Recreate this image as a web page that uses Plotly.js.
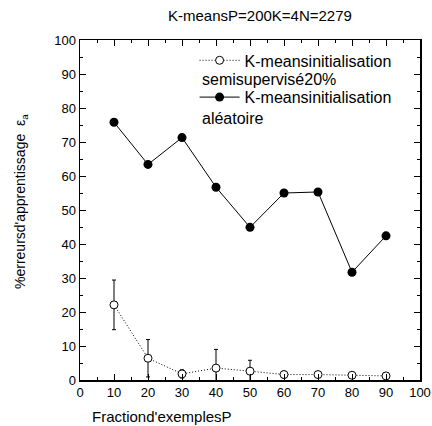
<!DOCTYPE html>
<html><head><meta charset="utf-8">
<script src="https://cdn.plot.ly/plotly-3.0.1.min.js"></script>
<style>body{margin:0;background:#fff}#c{width:432px;height:426px}</style>
</head><body><div id="c"></div>
<script>
var fractions = [10, 20, 30, 40, 50, 60, 70, 80, 90];
var semiSup = [22.1, 6.4, 1.8, 3.5, 2.6, 1.6, 1.6, 1.4, 1.2];
var semiSupErr = [7.3, 5.5, 1.2, 5.5, 3.2, 1.0, 0.8, 0.5, 0.5];
var random = [75.8, 63.4, 71.3, 56.7, 44.9, 55.0, 55.3, 31.7, 42.4];
var tickVals = [0, 10, 20, 30, 40, 50, 60, 70, 80, 90, 100];
var tickText = ['0','10','20','30','40','50','60','70','80','90','100'];
var FONT = 'Liberation Sans, Arial, sans-serif';

var traces = [
  {x: fractions, y: semiSup, type: 'scatter', mode: 'lines+markers',
   name: 'K-meansinitialisation', legendgroup: 'a',
   line: {color: '#000', width: 1, dash: '1px,2px'},
   marker: {symbol: 'circle', size: 8, color: '#fff', line: {width: 1, color: '#000'}},
   error_y: {type: 'data', array: semiSupErr, visible: true, color: '#000', thickness: 1, width: 2}},
  {x: fractions, y: random, type: 'scatter', mode: 'lines+markers',
   name: 'K-meansinitialisation', legendgroup: 'b',
   line: {color: '#000', width: 1},
   marker: {symbol: 'circle', size: 9, color: '#000'}}
];

var axisCommon = {
  range: [0, 100], showgrid: false, zeroline: false,
  showline: true, linecolor: '#000', linewidth: 1.5, mirror: 'ticks',
  ticks: 'inside', ticklen: 6, tickwidth: 1, tickcolor: '#000',
  tickvals: tickVals, ticktext: tickText,
  tickfont: {family: FONT, size: 13, color: '#000'},
  minor: {ticks: 'inside', ticklen: 3, dtick: 5, tickcolor: '#000', tickwidth: 1}
};

var layout = {
  width: 432, height: 426,
  margin: {l: 80, r: 12, t: 40, b: 46},
  paper_bgcolor: '#fff', plot_bgcolor: '#fff',
  showlegend: true,
  legend: {x: 0.337, y: 0.99, xanchor: 'left', yanchor: 'top', bgcolor: 'rgba(0,0,0,0)',
           font: {family: FONT, size: 16, color: '#000'}, tracegroupgap: 13, itemwidth: 40},
  xaxis: Object.assign({}, axisCommon),
  yaxis: Object.assign({}, axisCommon),
  annotations: [
    {text: 'K-meansP=200K=4N=2279', xref: 'paper', yref: 'paper', x: 0.53, y: 1.04,
     xanchor: 'center', yanchor: 'bottom', showarrow: false, font: {family: FONT, size: 15, color: '#000'}},
    {text: 'Fractiond\'exemplesP', xref: 'paper', yref: 'paper', x: 0.24, y: -0.075,
     xanchor: 'center', yanchor: 'top', showarrow: false, font: {family: FONT, size: 15, color: '#000'}},
    {text: '%erreursd\'apprentissage  ε<sub>a</sub>', xref: 'paper', yref: 'paper', x: -0.175, y: 0.525,
     xanchor: 'center', yanchor: 'middle', textangle: -90, showarrow: false, font: {family: FONT, size: 14, color: '#000'}},
    {text: 'semisupervisé20%', xref: 'paper', yref: 'paper', x: 0.352, y: 0.885,
     xanchor: 'left', yanchor: 'middle', showarrow: false, font: {family: FONT, size: 16, color: '#000'}},
    {text: 'aléatoire', xref: 'paper', yref: 'paper', x: 0.352, y: 0.77,
     xanchor: 'left', yanchor: 'middle', showarrow: false, font: {family: FONT, size: 16, color: '#000'}}
  ]
};
Plotly.newPlot('c', traces, layout, {displayModeBar: false, staticPlot: true});
</script></body></html>
